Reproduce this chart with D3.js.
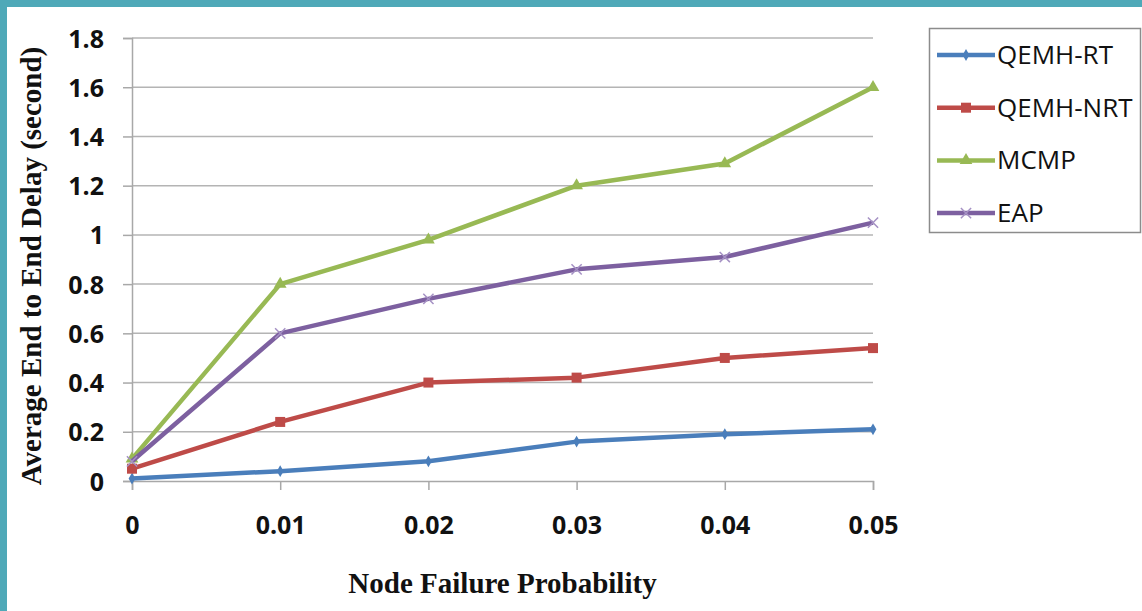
<!DOCTYPE html>
<html>
<head>
<meta charset="utf-8">
<script src="https://cdn.jsdelivr.net/npm/d3@7"></script>
<style>
  html, body { margin: 0; padding: 0; background: #fff; }
  svg { display: block; }
</style>
</head>
<body>
<div class="chart"></div>
<script>
// node failure probability (x) and delay values per protocol
var probs = [0, 0.01, 0.02, 0.03, 0.04, 0.05];
var qemhRT = [0.01, 0.04, 0.08, 0.16, 0.19, 0.21];
var qemhNRT = [0.05, 0.24, 0.40, 0.42, 0.50, 0.54];
var mcmp = [0.09, 0.80, 0.98, 1.20, 1.29, 1.60];
var eap = [0.08, 0.60, 0.74, 0.86, 0.91, 1.05];
var seriesNames = ["QEMH-RT", "QEMH-NRT", "MCMP", "EAP"];
var yTicks = [0, 0.2, 0.4, 0.6, 0.8, 1, 1.2, 1.4, 1.6, 1.8];
var xTickLabels = ["0", "0.01", "0.02", "0.03", "0.04", "0.05"];

var width = 1142, height = 611;
var colors = ["#4a7ebb", "#be4b48", "#98b954", "#7d60a0"];
var markers = ["diamond", "square", "triangle", "cross"];

var series = [qemhRT, qemhNRT, mcmp, eap].map(function(vals, i) {
  return {
    name: seriesNames[i],
    color: colors[i],
    marker: markers[i],
    values: vals.map(function(v, j) { return {x: probs[j], y: v}; })
  };
});

var svg = d3.select(".chart").append("svg")
  .attr("width", width)
  .attr("height", height);

// teal frame strips at top and left
svg.append("rect").attr("x", 0).attr("y", 0).attr("width", width).attr("height", 7).attr("fill", "#4fa9b8");
svg.append("rect").attr("x", 0).attr("y", 0).attr("width", 7).attr("height", height).attr("fill", "#4fa9b8");

var x = d3.scaleLinear().domain([0, 0.05]).range([132, 873]);
var y = d3.scaleLinear().domain([0, 1.8]).range([481, 38]);

// gridlines
svg.append("g")
  .selectAll("line")
  .data(yTicks.filter(function(t) { return t > 0; }))
  .enter().append("line")
  .attr("x1", x(0)).attr("x2", x(0.05))
  .attr("y1", function(d) { return y(d); })
  .attr("y2", function(d) { return y(d); })
  .attr("stroke", "#b4b4b4")
  .attr("stroke-width", 1.5);

// y axis
var yAxis = svg.append("g")
  .attr("transform", "translate(" + x(0) + ",0)")
  .call(d3.axisLeft(y).tickValues(yTicks).tickSize(9).tickPadding(19)
    .tickFormat(function(d) { return d3.format("")(+d.toFixed(1)); }));

// x axis
var xAxis = svg.append("g")
  .attr("transform", "translate(0," + y(0) + ")")
  .call(d3.axisBottom(x).tickValues(probs).tickSize(9).tickPadding(26)
    .tickFormat(function(d, i) { return xTickLabels[i]; }));

[yAxis, xAxis].forEach(function(ax) {
  ax.select(".domain").attr("stroke", "#a8a8a8").attr("stroke-width", 1.5);
  ax.selectAll(".tick line").attr("stroke", "#a8a8a8").attr("stroke-width", 1.5);
  ax.selectAll(".tick text")
    .attr("fill", "#111")
    .style("font-family", "'Open Sans', sans-serif")
    .style("font-weight", "bold")
    .style("font-size", "25px");
});
yAxis.selectAll(".tick text").attr("dy", "0.36em");
xAxis.selectAll(".tick text").attr("dy", "0.71em");

// axis titles
svg.append("text")
  .attr("x", (x(0) + x(0.05)) / 2)
  .attr("y", 593)
  .attr("text-anchor", "middle")
  .style("font-family", "'Liberation Serif', 'Times New Roman', serif")
  .style("font-weight", "bold")
  .style("font-size", "29px")
  .attr("fill", "#111")
  .text("Node Failure Probability");

svg.append("text")
  .attr("transform", "translate(41," + 266 + ") rotate(-90)")
  .attr("text-anchor", "middle")
  .style("font-family", "'Liberation Serif', 'Times New Roman', serif")
  .style("font-weight", "bold")
  .style("font-size", "29px")
  .attr("fill", "#111")
  .text("Average End to End Delay (second)");

function drawMarker(g, type, color) {
  if (type === "diamond") {
    g.append("path").attr("d", d3.symbol().type(d3.symbolDiamond).size(40)())
      .attr("fill", color);
  } else if (type === "square") {
    g.append("path").attr("d", d3.symbol().type(d3.symbolSquare).size(100)())
      .attr("fill", color);
  } else if (type === "triangle") {
    g.append("path").attr("d", d3.symbol().type(d3.symbolTriangle).size(70)())
      .attr("fill", color);
  } else {
    g.append("path").attr("d", d3.symbol().type(d3.symbolTimes).size(70)())
      .attr("fill", "none").attr("stroke", "#a591c4").attr("stroke-width", 1.5);
  }
}

var line = d3.line()
  .x(function(d) { return x(d.x); })
  .y(function(d) { return y(d.y); });

series.forEach(function(s) {
  svg.append("path")
    .datum(s.values)
    .attr("d", line)
    .attr("fill", "none")
    .attr("stroke", s.color)
    .attr("stroke-width", 4.5)
    .attr("stroke-linejoin", "round");

  s.values.forEach(function(d) {
    var g = svg.append("g").attr("transform", "translate(" + x(d.x) + "," + y(d.y) + ")");
    drawMarker(g, s.marker, s.color);
  });
});

// legend
var legend = svg.append("g");
legend.append("rect")
  .attr("x", 929.5).attr("y", 28.5)
  .attr("width", 211).attr("height", 204)
  .attr("fill", "#fff")
  .attr("stroke", "#8c8c8c")
  .attr("stroke-width", 1.5);

series.forEach(function(s, i) {
  var ly = 55 + i * 52.7;
  var item = legend.append("g");
  item.append("line")
    .attr("x1", 937).attr("x2", 995)
    .attr("y1", ly).attr("y2", ly)
    .attr("stroke", s.color)
    .attr("stroke-width", 4.5);
  var m = item.append("g").attr("transform", "translate(966," + ly + ")");
  drawMarker(m, s.marker, s.color);
  item.append("text")
    .attr("x", 997).attr("y", ly + 9)
    .style("font-family", "'Open Sans', sans-serif")
    .style("font-size", "26px")
    .attr("fill", "#111")
    .text(s.name);
});
</script>
</body>
</html>
